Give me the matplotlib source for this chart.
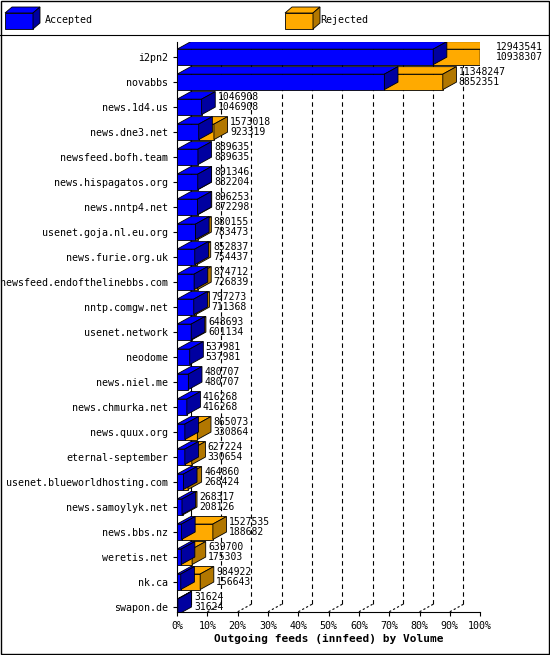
import matplotlib
matplotlib.use("Agg")
import matplotlib.pyplot as plt
from matplotlib.patches import Polygon, Rectangle

hosts = ["i2pn2","novabbs","news.1d4.us","news.dne3.net","newsfeed.bofh.team","news.hispagatos.org",
 "news.nntp4.net","usenet.goja.nl.eu.org","news.furie.org.uk","newsfeed.endofthelinebbs.com",
 "nntp.comgw.net","usenet.network","neodome","news.niel.me","news.chmurka.net","news.quux.org",
 "eternal-september","usenet.blueworldhosting.com","news.samoylyk.net","news.bbs.nz","weretis.net",
 "nk.ca","swapon.de"]
offered = [12943541,11348247,1046908,1573018,889635,891346,896253,880155,852837,874712,797273,
 648693,537981,480707,416268,865073,627224,464860,268317,1527535,639700,984922,31624]
accepted = [10938307,8852351,1046908,923319,889635,882204,872298,783473,754437,726839,711368,
 601134,537981,480707,416268,330864,330654,268424,208126,188682,175303,156643,31624]
ticks = [0,10,20,30,40,50,60,70,80,90,100]

plt.rcParams['font.family'] = 'DejaVu Sans Mono'
fig = plt.figure(figsize=(5.5,6.55), dpi=100)
ax = fig.add_axes([0.322, 0.066, 0.551, 0.870])
mx = max(offered)
n = len(hosts)
ybot, ytop = n-0.8, -0.6
ax.set_xlim(0, 100); ax.set_ylim(ybot, ytop)
dx, dy, h = 4.5, 0.3, 0.62

def box(x0, x1, yc, front, top, side):
    yb, yt = yc + h/2, yc - h/2
    ax.add_patch(Polygon([(x0,yb),(x1,yb),(x1,yt),(x0,yt)], closed=True, fc=front, ec='black', lw=0.6, zorder=3))
    ax.add_patch(Polygon([(x0,yt),(x1,yt),(x1+dx,yt-dy),(x0+dx,yt-dy)], closed=True, fc=top, ec='black', lw=0.6, zorder=3))
    ax.add_patch(Polygon([(x1,yb),(x1,yt),(x1+dx,yt-dy),(x1+dx,yb-dy)], closed=True, fc=side, ec='black', lw=0.6, zorder=3))

for t in ticks[1:]:
    ax.plot([t+dx, t+dx], [ybot-dy, ytop], ls=(0,(4,3)), color='black', lw=0.8, zorder=1)
    ax.plot([t, t+dx], [ybot, ybot-dy], color='black', lw=0.8, ls=(0,(2,2)), zorder=1)
ax.plot([0, dx], [ybot, ybot-dy], color='black', lw=0.8, zorder=1)
ax.plot([dx, dx], [ybot-dy, ytop], color='black', lw=0.8, zorder=1)

for i in range(n):
    a = accepted[i]/mx*100; o = offered[i]/mx*100
    if o > a:
        box(a, o, i, '#ffaa00', '#ffaa00', '#b27700')
    box(0, a, i, '#0000ff', '#0000ff', '#0000a0')
    ax.text(o+dx+0.8, i-0.2, f"{offered[i]}\n{accepted[i]}", fontsize=7, va='center', ha='left',
            linespacing=0.95, zorder=4, clip_on=False)

ax.set_yticks(range(n)); ax.set_yticklabels(hosts, fontsize=7.2)
ax.set_xticks(ticks); ax.set_xticklabels([f"{t}%" for t in ticks], fontsize=7.2)
ax.tick_params(length=3, width=0.8)
for s in ['top','right']: ax.spines[s].set_visible(False)
ax.set_xlabel("Outgoing feeds (innfeed) by Volume", fontsize=8, fontweight='bold', labelpad=2)

def lbox(fx, col, side):
    w, hh, ox, oy = 28/550, 16/655, 7/550, 6/655
    y0 = 1-29/655
    fig.patches.append(Polygon([(fx,y0),(fx+w,y0),(fx+w,y0+hh),(fx,y0+hh)], closed=True, fc=col, ec='black', lw=0.6, transform=fig.transFigure))
    fig.patches.append(Polygon([(fx,y0+hh),(fx+w,y0+hh),(fx+w+ox,y0+hh+oy),(fx+ox,y0+hh+oy)], closed=True, fc=col, ec='black', lw=0.6, transform=fig.transFigure))
    fig.patches.append(Polygon([(fx+w,y0),(fx+w+ox,y0+oy),(fx+w+ox,y0+hh+oy),(fx+w,y0+hh)], closed=True, fc=side, ec='black', lw=0.6, transform=fig.transFigure))
lbox(5/550, '#0000ff', '#0000a0')
fig.text(45/550, 1-20/655, "Accepted", fontsize=7.2, va='center')
lbox(285/550, '#ffaa00', '#b27700')
fig.text(320/550, 1-20/655, "Rejected", fontsize=7.2, va='center')
fig.add_artist(plt.Line2D([0,1],[1-35/655,1-35/655], color='black', lw=0.8, transform=fig.transFigure))
fig.patches.append(Rectangle((0.001,0.001),0.997,0.997, fill=False, ec='black', lw=1, transform=fig.transFigure))

fig.savefig("out.png", dpi=100)
